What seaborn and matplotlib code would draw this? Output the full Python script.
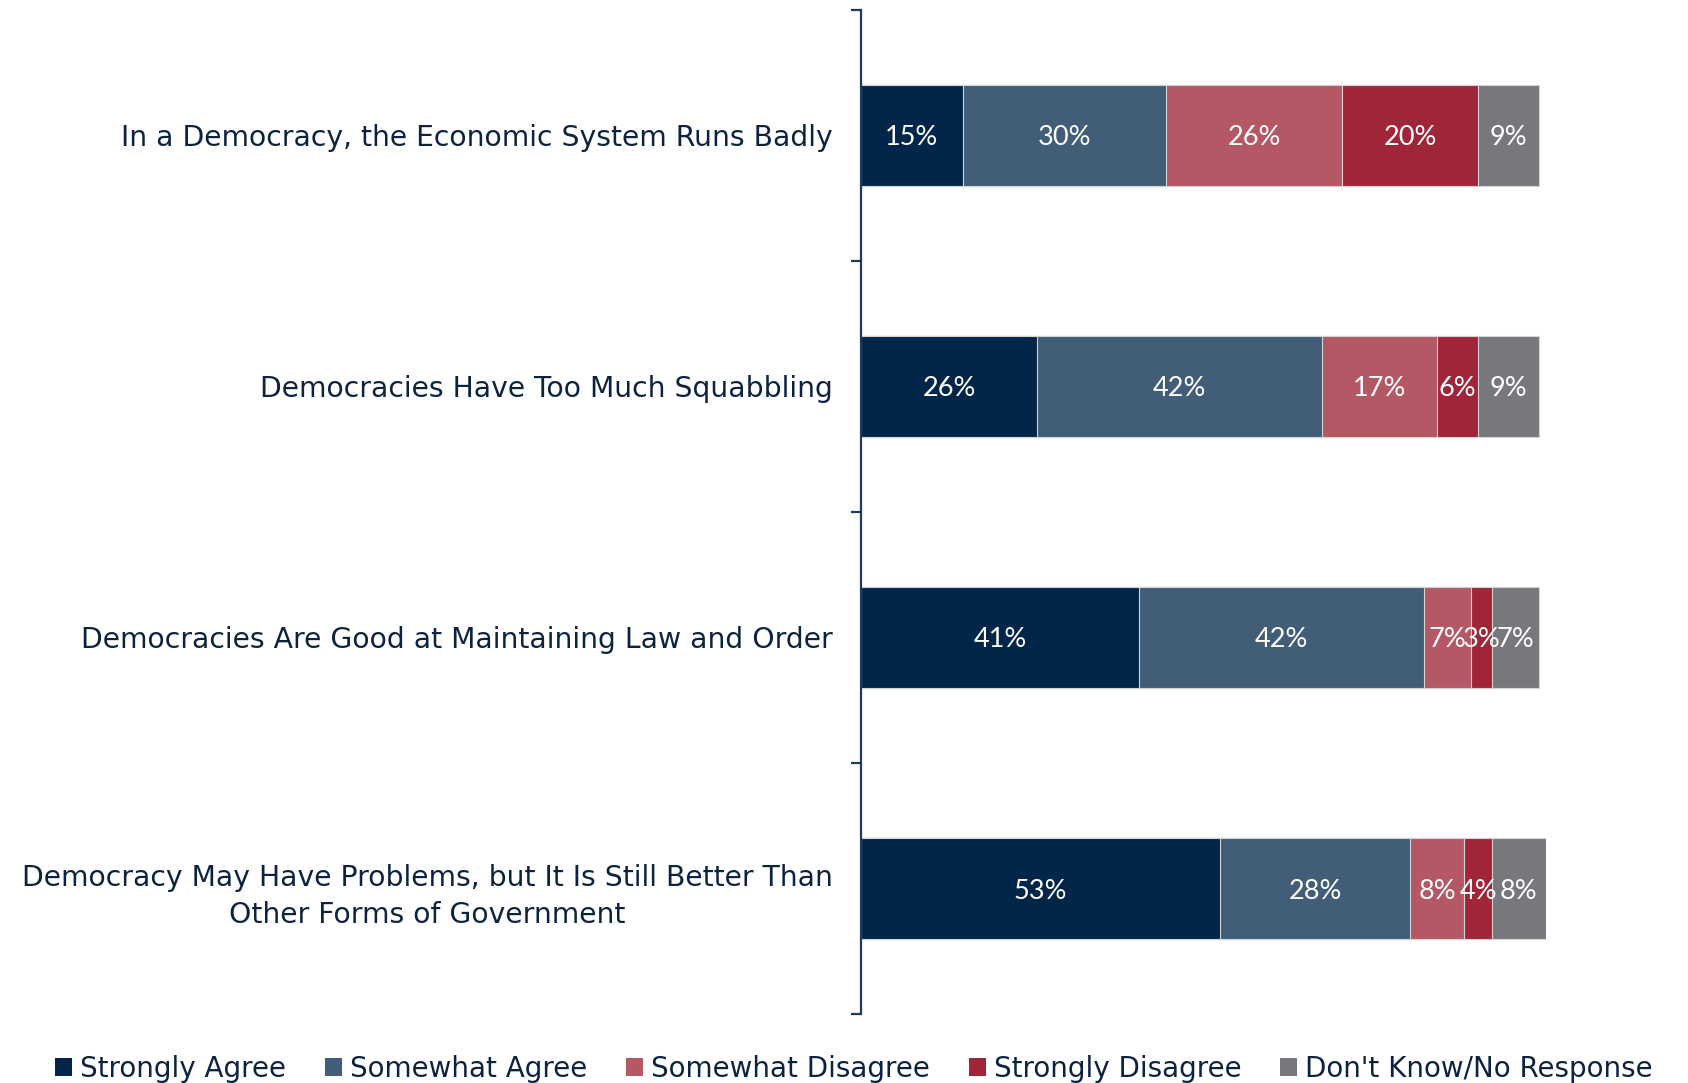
import matplotlib
matplotlib.use("Agg")
import matplotlib.pyplot as plt
from matplotlib.patches import Patch
from matplotlib.ticker import FixedLocator
import numpy as np
import pandas as pd
import seaborn as sns

categories = [
    "In a Democracy, the Economic System Runs Badly",
    "Democracies Have Too Much Squabbling",
    "Democracies Are Good at Maintaining Law and Order",
    "Democracy May Have Problems, but It Is Still Better Than\nOther Forms of Government",
]
series_names = ["Strongly Agree", "Somewhat Agree", "Somewhat Disagree",
                "Strongly Disagree", "Don't Know/No Response"]
strongly_agree = [15, 26, 41, 53]
somewhat_agree = [30, 42, 42, 28]
somewhat_disagree = [26, 17, 7, 8]
strongly_disagree = [20, 6, 3, 4]
dont_know = [9, 9, 7, 8]
colors = ["#02254A", "#425D78", "#B55866", "#A12539", "#77787B"]

series_values = [strongly_agree, somewhat_agree, somewhat_disagree,
                 strongly_disagree, dont_know]

sns.set_style("white")
plt.rcParams["font.family"] = ["DejaVu Sans"]
text_color = "#0C2340"

fig = plt.figure(figsize=(16.88, 10.83), dpi=100)
ax = fig.add_axes([0.510, 0.0637, 0.9158 - 0.510, 0.9908 - 0.0637])

vals = np.array(series_values, dtype=float)  # series x category
cum = np.cumsum(vals, axis=0)

for i in range(len(series_names) - 1, -1, -1):
    df = pd.DataFrame({"category": categories, "value": cum[i]})
    sns.barplot(data=df, x="value", y="category", orient="h", color=colors[i],
                width=0.4, errorbar=None, ax=ax, saturation=1,
                edgecolor="#d4d4d4", linewidth=0.8)

for i in range(len(series_names)):
    for j in range(len(categories)):
        center = cum[i, j] - vals[i, j] / 2
        ax.text(center, j, f"{int(vals[i, j])}%", ha="center",
                va="center_baseline", color="white", fontsize=19.5,
                family=["Lato", "DejaVu Sans"])

ax.set_xlim(0, 101)
ax.set_ylim(3.5, -0.5)
ax.set_xlabel("")
ax.set_ylabel("")
ax.set_xticks([])
for s in ["top", "right", "bottom"]:
    ax.spines[s].set_visible(False)
ax.spines["left"].set_color("#1F3A5A")
ax.spines["left"].set_linewidth(1.6)

ax.yaxis.set_minor_locator(FixedLocator([-0.5, 0.5, 1.5, 2.5, 3.5]))
ax.tick_params(axis="y", which="minor", length=7, width=1.6, color="#1F3A5A",
               direction="out", left=True)
ax.tick_params(axis="y", which="major", length=0, pad=20, labelsize=20.3,
               labelcolor=text_color)
for lbl in ax.get_yticklabels():
    lbl.set_multialignment("center")
    lbl.set_linespacing(1.45)

handles = [Patch(facecolor=c, edgecolor="none") for c in colors]
fig.legend(handles, series_names, loc="center", bbox_to_anchor=(0.506, 0.013),
           ncol=5, frameon=False, fontsize=20, labelcolor=text_color,
           handlelength=0.6, handleheight=0.6, handletextpad=0.3,
           columnspacing=1.4)

fig.savefig("out.png", dpi=100)
